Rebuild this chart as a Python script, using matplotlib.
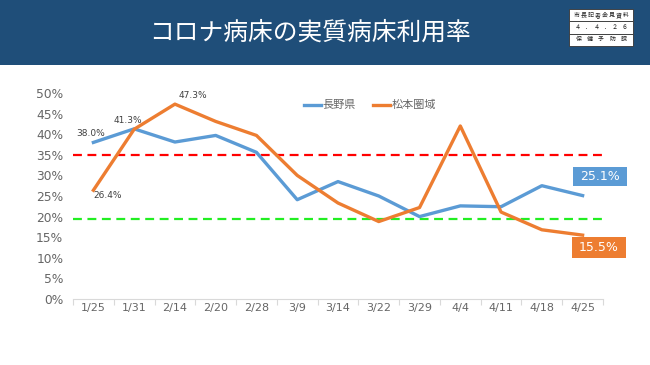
import matplotlib
matplotlib.use("Agg")
import matplotlib.pyplot as plt
from matplotlib.patches import Rectangle

plt.rcParams['font.family'] = ['Noto Sans CJK JP', 'DejaVu Sans']
NUMFONT = ['DejaVu Sans']

dates = ["1/25", "1/31", "2/14", "2/20", "2/28", "3/9", "3/14", "3/22", "3/29", "4/4", "4/11", "4/18", "4/25"]
nagano = [38.0, 41.3, 38.1, 39.7, 35.6, 24.1, 28.5, 25.0, 20.0, 22.6, 22.4, 27.5, 25.1]
matsumoto = [26.4, 41.2, 47.3, 43.1, 39.7, 30.0, 23.3, 18.8, 22.2, 42.0, 21.1, 16.8, 15.5]
series_names = ["長野県", "松本圏域"]
red_level = 35.0
green_level = 19.4
yticks = [0, 5, 10, 15, 20, 25, 30, 35, 40, 45, 50]
title = "コロナ病床の実質病床利用率"
stamp_rows = ["市長記者会見資料", "４．４．２６", "保健予防課"]

BLUE = "#5B9BD5"
ORANGE = "#ED7D31"
NAVY = "#1F4E79"
GRAY = "#666666"

W, H = 650, 365
fig = plt.figure(figsize=(W / 100, H / 100), dpi=100)
fig.patch.set_facecolor("white")

# Banner
fig.patches.append(Rectangle((0, (H - 65) / H), 1, 65 / H, transform=fig.transFigure,
                             facecolor=NAVY, edgecolor="none", zorder=0))
fig.text(310 / W, 1 - 33 / H, title, color="white", fontsize=17.8, ha="center", va="center")

# Stamp box
bx0, by0, bw, bh = 569, 9, 64, 37
for i, row in enumerate(stamp_rows):
    y_top = by0 + i * bh / 3
    fig.patches.append(Rectangle((bx0 / W, 1 - (y_top + bh / 3) / H), bw / W, (bh / 3) / H,
                                 transform=fig.transFigure, facecolor="white",
                                 edgecolor="#333333", linewidth=0.6, zorder=1))
    n = len(row)
    for j, ch in enumerate(row):
        cx = bx0 + 4 + (bw - 8) * (j + 0.5) / n
        fig.text(cx / W, 1 - (y_top + bh / 6) / H, ch, fontsize=4.3, color="#222222",
                 ha="center", va="center", zorder=2)

# Axes
ax_l, ax_r, ax_b, ax_t = 73, 603, 299, 93
ax = fig.add_axes([ax_l / W, (H - ax_b) / H, (ax_r - ax_l) / W, (ax_b - ax_t) / H])
ax.set_facecolor("none")
x = list(range(len(dates)))

ax.axhline(red_level, color="#FF0000", linestyle=(0, (4, 2.5)), linewidth=1.6)
ax.axhline(green_level, color="#22EE22", linestyle=(0, (4, 2.5)), linewidth=1.6)

ax.plot(x, nagano, color=BLUE, linewidth=2.4, label=series_names[0])
ax.plot(x, matsumoto, color=ORANGE, linewidth=2.4, label=series_names[1])

ax.set_xlim(-0.5, len(dates) - 0.5)
ax.set_ylim(0, 50)
ax.set_yticks(yticks)
ax.set_yticklabels([f"{v}%" for v in yticks], color=GRAY, fontsize=8.8, family=NUMFONT)
ax.tick_params(axis="y", length=0, pad=7)
ax.set_xticks(x)
ax.set_xticklabels(dates, color=GRAY, fontsize=8, family=NUMFONT)
ax.set_xticks([i - 0.5 for i in range(len(dates) + 1)], minor=True)
ax.tick_params(axis="x", which="major", length=0, pad=3)
ax.tick_params(axis="x", which="minor", length=4, color="#D9D9D9", width=0.8)
for s in ["top", "right", "left"]:
    ax.spines[s].set_visible(False)
ax.spines["bottom"].set_color("#D9D9D9")
ax.spines["bottom"].set_linewidth(0.8)

# Data labels
lab_kw = dict(textcoords="offset points", fontsize=6.5, color="#404040", ha="center", va="center",
              family=NUMFONT)
ax.annotate(f"{nagano[0]:.1f}%", (x[0], nagano[0]), xytext=(-2, 6.5), **lab_kw)
ax.annotate(f"{nagano[1]:.1f}%", (x[1], nagano[1]), xytext=(-4.5, 6), **lab_kw)
ax.annotate(f"{matsumoto[2]:.1f}%", (x[2], matsumoto[2]), xytext=(13, 6), **lab_kw)
ax.annotate(f"{matsumoto[0]:.1f}%", (x[0], matsumoto[0]), xytext=(10, -4), **lab_kw)

# End-value boxes (sized in pixels around the last data point)
def end_box(val, color, dx, dy, bw_px=54, bh_px=19):
    px, py = ax.transData.transform((x[-1], val))
    cx, cy = px + dx, py + dy
    fig.patches.append(Rectangle(((cx - bw_px / 2) / W, (cy - bh_px / 2) / H), bw_px / W, bh_px / H,
                                 transform=fig.transFigure, facecolor=color, edgecolor="none",
                                 zorder=3))
    fig.text(cx / W, cy / H, f"{val:.1f}%", color="white", fontsize=9, ha="center",
             va="center", family=NUMFONT, zorder=4)

end_box(nagano[-1], BLUE, 17, 19)
end_box(matsumoto[-1], ORANGE, 16, -12.5, bh_px=21)

leg = ax.legend(loc="center", bbox_to_anchor=(0.56, 0.94), ncol=2, frameon=False, fontsize=8,
                handlelength=1.6, handletextpad=0.1, columnspacing=1.5, labelcolor=GRAY)

fig.savefig("out.png", dpi=100)
